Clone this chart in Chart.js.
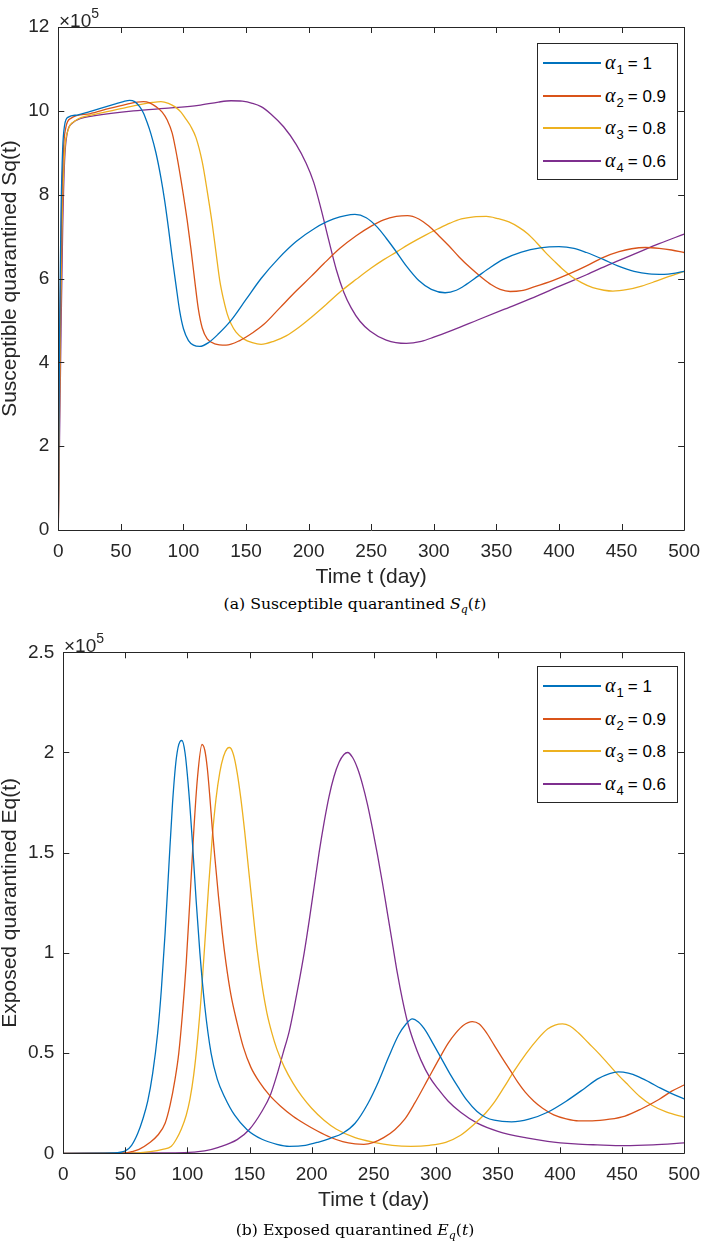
<!DOCTYPE html>
<html lang="en">
<head>
<meta charset="UTF-8">
<title>Susceptible and exposed quarantined</title>
<script src="https://cdn.jsdelivr.net/npm/chart.js"></script>
<style>
  body { margin: 0; width: 710px; height: 1244px; position: relative; background: #fff; overflow: hidden;
         font-family: 'Liberation Sans', Arial, sans-serif; color: #262626; }
  canvas { position: absolute; left: 0; }
  .expo { position: absolute; font-size: 19px; line-height: 19px; white-space: nowrap; }
  .expo sup { font-size: 14px; position: relative; top: -2px; }
  .legend { position: absolute; left: 537px; width: 141px; height: 137px; border: 1px solid #262626;
            background: #fff; box-sizing: border-box; }
  .legend .swatch { position: absolute; left: 5px; width: 58px; height: 2px; }
  .legend .txt { position: absolute; left: 67px; font-size: 17px; line-height: 20px; white-space: nowrap; color: #000; }
  .legend .al { font-family: 'Liberation Serif', serif; font-style: italic; font-size: 20px; }
  .legend sub { font-size: 13px; position: relative; top: 1px; margin: 0 4px 0 1px; }
  .caption { position: absolute; left: 0; width: 710px; text-align: center; font-family: 'DejaVu Serif', serif;
             font-size: 15.7px; color: #000; white-space: nowrap; }
  .caption i { font-style: italic; }
  .caption sub { font-size: 11px; font-style: italic; }
</style>
</head>
<body>
<canvas id="sqChart" width="710" height="590" style="top:0"></canvas>
<canvas id="eqChart" width="710" height="624" style="top:620px"></canvas>
<div class="expo" style="left:59px; top:6px">&times;10<sup>5</sup></div>
<div class="expo" style="left:64px; top:631px">&times;10<sup>5</sup></div>
<div class="legend" id="legendSq" style="top:43px"></div>
<div class="legend" id="legendEq" style="top:666px"></div>
<div class="caption" style="top:594px">(a) Susceptible quarantined <i>S</i><sub>q</sub>(<i>t</i>)</div>
<div class="caption" style="top:1220px">(b) Exposed quarantined <i>E</i><sub>q</sub>(<i>t</i>)</div>
<script>
// fractional orders
const alphaSubs = ['1', '2', '3', '4'];
const alphaValues = ['1', '0.9', '0.8', '0.6'];
const seriesColors = ['#0072BD', '#D95319', '#EDB120', '#7E2F8E'];

const dayTicks = [0, 50, 100, 150, 200, 250, 300, 350, 400, 450, 500];
const sqYTicks = [0, 2, 4, 6, 8, 10, 12];
const eqYTicks = [0, 0.5, 1, 1.5, 2, 2.5];

// Sq(t), units of 1e5, [day, value]
const sqAlpha1 = [[0,0],[0.5,2.6],[1.2,5.2],[2.2,7.6],[3.5,9.1],[5,9.65],[8,9.85],[15,9.9],[25,9.98],[35,10.07],[45,10.16],[52,10.22],[57,10.25],[61,10.22],[65,10.1],[68,9.95],[71,9.72],[74,9.45],[78,9.0],[82,8.4],[85,7.85],[88,7.2],[91,6.5],[94,5.85],[97,5.22],[100,4.8],[104,4.52],[108,4.41],[113,4.38],[120,4.47],[128,4.68],[138,5.0],[150,5.5],[162,6.0],[176,6.48],[190,6.88],[205,7.2],[220,7.42],[237,7.53],[246,7.45],[255,7.22],[262,6.96],[269,6.68],[278,6.3],[288,5.95],[298,5.74],[309,5.66],[318,5.72],[326,5.86],[335,6.05],[343,6.22],[355,6.45],[370,6.63],[385,6.73],[400,6.76],[412,6.72],[422,6.62],[435,6.46],[447,6.3],[460,6.17],[472,6.11],[484,6.1],[493,6.13],[500,6.17]];
const sqAlpha2 = [[0,0],[0.6,2.4],[1.4,5.0],[2.5,7.4],[4,9.0],[6,9.6],[10,9.82],[25,9.93],[40,10.05],[55,10.16],[63,10.21],[68,10.22],[73,10.19],[78,10.1],[83,9.97],[87,9.78],[91,9.47],[95,8.88],[99,8.17],[103,7.38],[106,6.7],[109,5.95],[112,5.25],[115,4.82],[119,4.56],[125,4.44],[134,4.41],[145,4.52],[155,4.7],[164,4.9],[177,5.3],[190,5.7],[202,6.05],[212,6.35],[225,6.72],[238,7.02],[250,7.25],[260,7.4],[270,7.48],[279,7.5],[288,7.42],[296,7.25],[304,7.02],[312,6.78],[320,6.52],[329,6.26],[338,6.03],[346,5.85],[353,5.74],[361,5.69],[370,5.71],[380,5.8],[395,5.95],[409,6.12],[422,6.3],[435,6.5],[448,6.64],[458,6.71],[469,6.74],[480,6.72],[490,6.68],[500,6.62]];
const sqAlpha3 = [[0,0],[0.8,2.4],[1.8,5.0],[3,7.3],[5,9.0],[8,9.55],[13,9.75],[30,9.92],[50,10.05],[65,10.15],[75,10.2],[82,10.22],[88,10.18],[93,10.1],[98,9.97],[102,9.8],[106,9.62],[110,9.36],[115,8.78],[119,8.08],[123,7.3],[126,6.62],[129,5.95],[132,5.5],[135,5.15],[138,4.92],[142,4.72],[148,4.56],[155,4.47],[162,4.43],[172,4.5],[182,4.63],[192,4.83],[202,5.07],[214,5.38],[226,5.7],[238,5.98],[250,6.25],[260,6.45],[270,6.63],[282,6.85],[293,7.03],[303,7.18],[313,7.32],[322,7.42],[332,7.47],[342,7.48],[351,7.43],[360,7.35],[368,7.22],[375,7.07],[382,6.86],[389,6.63],[396,6.42],[403,6.22],[410,6.05],[418,5.9],[427,5.78],[436,5.72],[443,5.7],[455,5.74],[466,5.82],[477,5.93],[488,6.05],[500,6.17]];
const sqAlpha4 = [[0,0],[1,2.2],[2.2,4.8],[3.5,7.2],[5,8.8],[7,9.45],[11,9.7],[18,9.82],[28,9.88],[60,10.0],[90,10.07],[112,10.13],[128,10.21],[138,10.24],[147,10.23],[155,10.18],[162,10.1],[170,9.92],[180,9.62],[190,9.2],[198,8.75],[204,8.3],[210,7.65],[216,6.92],[222,6.22],[228,5.68],[234,5.3],[241,4.98],[249,4.75],[262,4.53],[278,4.45],[290,4.5],[300,4.6],[315,4.77],[335,5.01],[355,5.25],[380,5.55],[400,5.81],[422,6.09],[440,6.33],[460,6.58],[480,6.83],[500,7.06]];

// Eq(t), units of 1e5, [day, value]
const eqAlpha1 = [[0,0],[40,0.002],[50,0.012],[55,0.04],[60,0.1],[64,0.17],[68,0.26],[72,0.4],[76,0.6],[79,0.82],[82,1.1],[85,1.43],[88,1.75],[91,1.97],[94,2.055],[95.5,2.06],[98,2.0],[101,1.81],[104,1.55],[107,1.26],[110,1.0],[114,0.73],[119,0.5],[124,0.37],[130,0.28],[138,0.19],[148,0.118],[160,0.07],[172,0.045],[182,0.035],[195,0.04],[205,0.055],[215,0.075],[225,0.1],[235,0.15],[245,0.245],[254,0.36],[262,0.48],[270,0.59],[276,0.645],[281,0.671],[286,0.655],[292,0.61],[298,0.545],[303,0.49],[307,0.445],[312,0.39],[318,0.33],[325,0.265],[333,0.21],[340,0.18],[347,0.165],[361,0.157],[375,0.17],[390,0.205],[405,0.26],[420,0.325],[430,0.37],[440,0.398],[447,0.406],[455,0.4],[463,0.383],[472,0.355],[481,0.325],[490,0.298],[500,0.272]];
const eqAlpha2 = [[0,0],[50,0.002],[55,0.008],[61,0.02],[70,0.055],[76,0.09],[82,0.15],[86,0.24],[90,0.37],[93,0.5],[96,0.7],[99,0.95],[102,1.27],[105,1.6],[108,1.87],[111.7,2.04],[114,2.01],[116,1.92],[118,1.78],[120,1.62],[122,1.48],[125,1.28],[128,1.1],[131,0.95],[135,0.79],[140,0.65],[145,0.53],[151,0.43],[158,0.355],[166,0.29],[175,0.235],[185,0.185],[195,0.145],[205,0.11],[215,0.08],[225,0.058],[235,0.047],[242,0.045],[250,0.055],[258,0.078],[267,0.118],[275,0.17],[283,0.25],[293.7,0.37],[303,0.475],[310,0.55],[316,0.6],[322,0.638],[329.4,0.657],[335,0.645],[341,0.6],[347,0.54],[353,0.48],[359.8,0.415],[366,0.355],[372,0.305],[379,0.26],[386,0.225],[395,0.192],[405,0.172],[415,0.162],[426,0.162],[440,0.17],[452.4,0.186],[465,0.22],[480,0.27],[490,0.31],[500,0.341]];
const eqAlpha3 = [[0,0],[60,0.002],[70,0.008],[80,0.02],[87,0.035],[91,0.07],[95,0.12],[99,0.19],[102,0.27],[105,0.39],[108,0.56],[111,0.78],[114,1.05],[117,1.33],[120,1.58],[123,1.77],[126,1.9],[129,1.98],[132,2.02],[134,2.025],[137,1.99],[140,1.9],[143,1.77],[146,1.61],[149,1.43],[152,1.25],[156,1.02],[160,0.84],[164,0.7],[168,0.6],[172,0.52],[178,0.43],[185,0.35],[192,0.285],[200,0.225],[210,0.165],[220,0.12],[235,0.078],[250,0.055],[265,0.04],[280,0.035],[295,0.04],[308,0.055],[320,0.09],[330,0.14],[340,0.2],[346.6,0.25],[355,0.33],[363,0.41],[373,0.5],[382,0.57],[390,0.62],[396,0.64],[402,0.646],[408,0.635],[415,0.6],[423,0.55],[431,0.5],[439,0.445],[447,0.39],[455,0.34],[464,0.285],[474,0.24],[486,0.205],[500,0.181]];
const eqAlpha4 = [[0,0],[90,0.002],[105,0.006],[113.8,0.012],[125,0.03],[140,0.068],[150,0.12],[160,0.21],[166.7,0.29],[172,0.39],[177,0.5],[182,0.61],[186,0.73],[190,0.86],[194,1.0],[198,1.16],[202,1.33],[206,1.5],[210,1.65],[214,1.78],[218,1.88],[222,1.95],[226,1.99],[229,2.0],[233,1.975],[237,1.92],[241,1.84],[245,1.74],[249,1.62],[253,1.49],[257,1.35],[261,1.2],[265,1.05],[269,0.9],[273,0.77],[277,0.66],[282,0.56],[288,0.465],[295,0.38],[302,0.32],[310,0.26],[320,0.205],[333,0.152],[350,0.11],[373,0.077],[390,0.06],[412,0.047],[430,0.042],[452,0.038],[475,0.042],[500,0.052]];

const FONT = "'Liberation Sans', Arial, sans-serif";
const AXIS = '#262626';

// box round the plot with inward ticks on all four sides, like matlab
const framePlugin = {
  id: 'frame',
  afterDatasetsDraw(chart) {
    const { ctx, chartArea: a, scales: { x, y } } = chart;
    const len = 6;
    ctx.save();
    ctx.strokeStyle = AXIS;
    ctx.lineWidth = 1;
    ctx.beginPath();
    ctx.rect(Math.round(a.left) + 0.5, Math.round(a.top) + 0.5, Math.round(a.width), Math.round(a.height));
    x.ticks.forEach(t => {
      const px = Math.round(x.getPixelForValue(t.value)) + 0.5;
      ctx.moveTo(px, a.bottom); ctx.lineTo(px, a.bottom - len);
      ctx.moveTo(px, a.top); ctx.lineTo(px, a.top + len);
    });
    y.ticks.forEach(t => {
      const py = Math.round(y.getPixelForValue(t.value)) + 0.5;
      ctx.moveTo(a.left, py); ctx.lineTo(a.left + len, py);
      ctx.moveTo(a.right, py); ctx.lineTo(a.right - len, py);
    });
    ctx.stroke();
    ctx.restore();
  }
};

function makeChart(id, series, yTicks, yTitle, pad) {
  const ctx = document.getElementById(id).getContext('2d');
  return new Chart(ctx, {
    type: 'line',
    data: {
      datasets: series.map((s, i) => ({
        label: 'alpha' + alphaSubs[i] + ' = ' + alphaValues[i],
        data: s.map(([x, y]) => ({ x, y })),
        borderColor: seriesColors[i],
        borderWidth: 1.3,
        pointRadius: 0,
        fill: false,
        cubicInterpolationMode: 'monotone'
      }))
    },
    options: {
      responsive: false,
      animation: false,
      events: [],
      layout: { padding: { top: pad.top, right: pad.right, left: 0, bottom: pad.bottom } },
      plugins: { legend: { display: false }, tooltip: { enabled: false } },
      scales: {
        x: {
          type: 'linear', min: 0, max: 500,
          afterBuildTicks: s => { s.ticks = dayTicks.map(v => ({ value: v })); },
          afterFit: s => { s.height = 60; },
          grid: { display: false, drawTicks: false },
          border: { display: false },
          ticks: { padding: 10, color: AXIS, font: { family: FONT, size: 19 }, maxRotation: 0, callback: v => String(v) },
          title: { display: true, text: 'Time t (day)', color: AXIS, font: { family: FONT, size: 21, lineHeight: 1.2 }, padding: { top: 0, bottom: 0 } }
        },
        y: {
          type: 'linear', min: yTicks[0], max: yTicks[yTicks.length - 1],
          afterBuildTicks: s => { s.ticks = yTicks.map(v => ({ value: v })); },
          afterFit: s => { s.width = pad.left; },
          grid: { display: false, drawTicks: false },
          border: { display: false },
          ticks: { padding: 9, color: AXIS, font: { family: FONT, size: 19 }, callback: v => String(v) },
          title: { display: true, text: yTitle, color: AXIS, font: { family: FONT, size: 21, lineHeight: 1.0 }, padding: 0 }
        }
      }
    },
    plugins: [framePlugin]
  });
}

function buildLegend(id) {
  const box = document.getElementById(id);
  alphaValues.forEach((val, i) => {
    const cy = Math.round(18 + i * 32.5);
    const sw = document.createElement('div');
    sw.className = 'swatch';
    sw.style.top = cy + 'px';
    sw.style.background = seriesColors[i];
    box.appendChild(sw);
    const tx = document.createElement('div');
    tx.className = 'txt';
    tx.style.top = (cy - 10) + 'px';
    tx.innerHTML = '<span class="al">&alpha;</span><sub>' + alphaSubs[i] + '</sub>= ' + val;
    box.appendChild(tx);
  });
}

makeChart('sqChart', [sqAlpha1, sqAlpha2, sqAlpha3, sqAlpha4], sqYTicks,
  'Susceptible quarantined Sq(t)', { top: 27, left: 58.3, right: 17.5, bottom: 0 });
makeChart('eqChart', [eqAlpha1, eqAlpha2, eqAlpha3, eqAlpha4], eqYTicks,
  'Exposed quarantined Eq(t)', { top: 32.3, left: 63.3, right: 16.7, bottom: 30.7 });
buildLegend('legendSq');
buildLegend('legendEq');
</script>
</body>
</html>
